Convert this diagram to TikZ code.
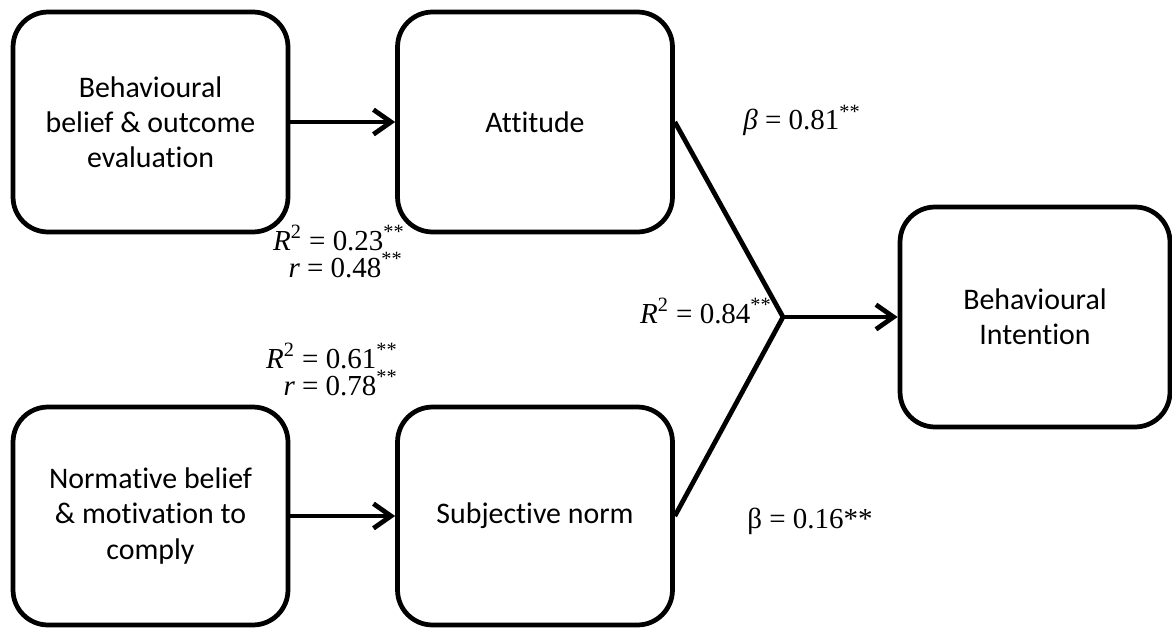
\documentclass[tikz,border=0pt]{standalone}
\usepackage{fontspec}
\setmainfont{Carlito}[Ligatures=NoCommon]
\newfontfamily\timesfont{Liberation Serif}
\usetikzlibrary{arrows.meta}

\begin{document}
\begin{tikzpicture}[x=0.02cm,y=-0.02cm,line join=round,
    >={Straight Barb[length=10pt,width=14pt]},
    construct/.style={draw,line width=2.7pt,rounded corners=0.7cm,
      minimum width=5.5cm,minimum height=4.4cm,align=center,
      font=\fontsize{17}{20}\selectfont},
    path/.style={line width=2.7pt},
    stat/.style={font=\timesfont\fontsize{16.5}{18}\selectfont,inner sep=0pt}]
  \useasboundingbox (0,0) rectangle (1172,628);

  %% ---------------- the five constructs ----------------
  \node[construct] (belief) at (150.5,122) {Behavioural\\belief \& outcome\\evaluation};
  \node[construct] (attitude) at (535,122) {Attitude};
  \node[construct,minimum height=4.36cm] (normbelief) at (150.5,516)
       {Normative belief\\\& motivation to\\comply};
  \node[construct,minimum height=4.36cm] (subjnorm) at (535,516) {Subjective norm};
  \node[construct,minimum width=5.4cm] (intention) at (1035,317)
       {Behavioural\\Intention};

  %% ---------------- paths ----------------
  \coordinate (join) at (783,317);
  \draw[path,->] (belief) -- (attitude);
  \draw[path,->] (normbelief) -- (subjnorm);
  \draw[path] (attitude.east) -- (join) -- (subjnorm.east);
  \draw[path,->] (join) -- (intention);

  %% ---------------- coefficients ----------------
  \node[stat,anchor=base east] (rsqatt) at (405,250)
       {\textit{R}\textsuperscript{2} = 0.23\textsuperscript{**}};
  \node[stat,anchor=base east] (ratt) at (403,277)
       {\textit{r} = 0.48\textsuperscript{**}};
  \node[stat,anchor=base east] (rsqsn) at (398,368)
       {\textit{R}\textsuperscript{2} = 0.61\textsuperscript{**}};
  \node[stat,anchor=base east] (rsn) at (398,395)
       {\textit{r} = 0.78\textsuperscript{**}};
  \node[stat,anchor=base east] (rsqint) at (772,323)
       {\textit{R}\textsuperscript{2} = 0.84\textsuperscript{**}};
  \node[stat,anchor=base west] (betaatt) at (743,130)
       {\textit{β} = 0.81\textsuperscript{**}};
  \node[stat,anchor=base west] (betasn) at (747,528)
       {β = 0.16**};
\end{tikzpicture}
\end{document}
